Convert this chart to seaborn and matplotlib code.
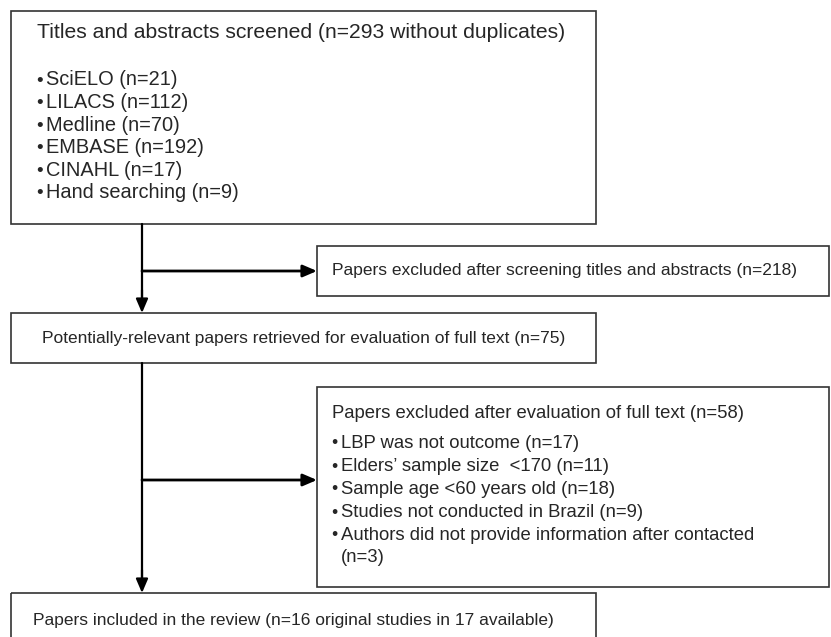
import matplotlib.pyplot as plt
import seaborn as sns
from matplotlib.patches import Rectangle

# flow counts
n_screened = 293
n_excl_screening = 218
n_full_text = 75
n_excl_full_text = 58
n_included = 16
n_available = 17

sources = ['SciELO', 'LILACS', 'Medline', 'EMBASE', 'CINAHL', 'Hand searching']
source_n = [21, 112, 70, 192, 17, 9]

excl_reasons = ['LBP was not outcome', 'Elders\u2019 sample size  <170', 'Sample age <60 years old',
                'Studies not conducted in Brazil', 'Authors did not provide information after contacted']
excl_n = [17, 11, 18, 9, 3]

sns.set_theme(style='white')
plt.rcParams['font.family'] = ['Liberation Sans', 'DejaVu Sans']

fig = plt.figure(figsize=(8.31, 6.37), dpi=100)
ax = fig.add_axes([0, 0, 1, 1])
ax.set_xlim(0, 831)
ax.set_ylim(637, 0)
ax.axis('off')

TITLE = 15.2
BIG = 14.4
SMALL = 12.5
MID = 13.3
edge = '#333333'


def box(x0, y0, x1, y1):
    ax.add_patch(Rectangle((x0, y0), x1 - x0, y1 - y0, fill=False, edgecolor=edge, linewidth=1.2))


def arrow(x0, y0, x1, y1, lw=1.6):
    ax.annotate('', xy=(x1, y1), xytext=(x0, y0),
                arrowprops=dict(arrowstyle='-|>,head_length=0.7,head_width=0.3', color='black',
                                lw=lw, shrinkA=0, shrinkB=0))


def bullet(x, y, s, size):
    # y is the line centre; dot, then text on the same line
    ax.text(x + 2.5, y + 1, '\u2022', fontsize=size * 0.95, va='center', ha='center')
    ax.text(x + 9, y + size * 0.38, s, fontsize=size, va='baseline', ha='left')


# boxes
box(11, 11, 596, 224)
box(317, 246, 829, 296)
box(11, 313, 596, 363)
box(317, 387, 829, 587)
box(11, 593, 596, 660)

# connectors
ax.plot([142, 142], [224, 300], color='black', lw=1.6)
arrow(142, 290, 142, 313)
arrow(142, 271, 317, 271, lw=2.0)
ax.plot([142, 142], [363, 580], color='black', lw=1.6)
arrow(142, 570, 142, 593)
arrow(142, 480, 317, 480, lw=2.0)

# box 1
ax.text(37, 32, 'Titles and abstracts screened (n=%d without duplicates)' % n_screened,
        fontsize=TITLE, va='center', ha='left')
for i, (s, n) in enumerate(zip(sources, source_n)):
    bullet(37, 80 + i * 22.6, '%s (n=%d)' % (s, n), BIG)

# box 2
ax.text(332, 271, 'Papers excluded after screening titles and abstracts (n=%d)' % n_excl_screening,
        fontsize=SMALL, va='center', ha='left')

# box 3
ax.text(42, 338, 'Potentially-relevant papers retrieved for evaluation of full text (n=%d)' % n_full_text,
        fontsize=SMALL, va='center', ha='left')

# box 4
ax.text(332, 413, 'Papers excluded after evaluation of full text (n=%d)' % n_excl_full_text,
        fontsize=MID, va='center', ha='left')
for i, (r, n) in enumerate(zip(excl_reasons, excl_n)):
    y = 443 + i * 23
    if i == len(excl_reasons) - 1:
        bullet(332, y, r, MID)
        ax.text(341, y + 22, '(n=%d)' % n, fontsize=MID, va='center', ha='left')
    else:
        bullet(332, y, '%s (n=%d)' % (r, n), MID)

# box 5
ax.text(33, 620, 'Papers included in the review (n=%d original studies in %d available)' % (n_included, n_available),
        fontsize=SMALL, va='center', ha='left')

fig.savefig('out.png', dpi=100, facecolor='white')
